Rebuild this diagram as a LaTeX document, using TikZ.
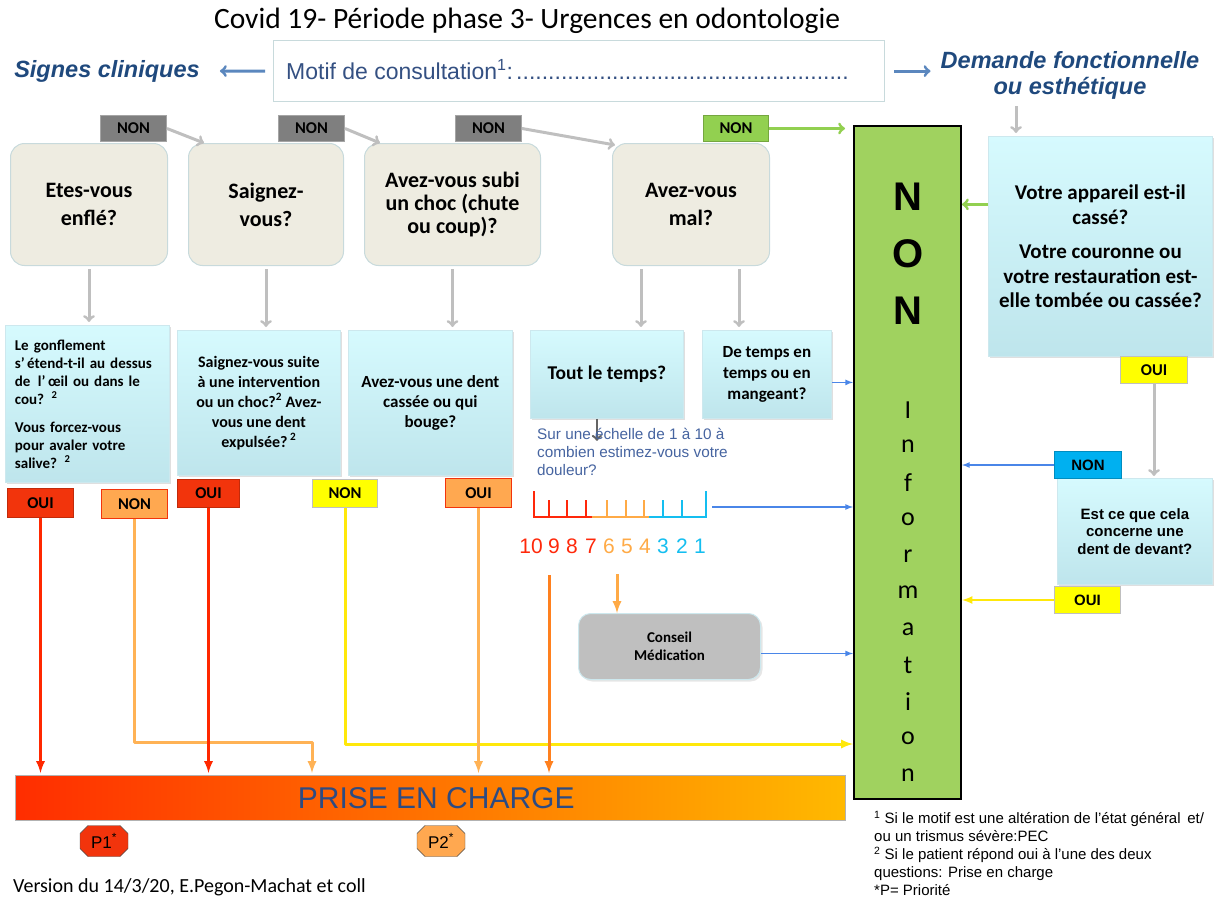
\documentclass[tikz,border=0pt]{standalone}
\usepackage{fontspec}
\setmainfont{Carlito}
\newfontfamily\arialf{Liberation Sans}
\usetikzlibrary{calc, shapes.misc, shadows}

\definecolor{qbeige}{RGB}{238,236,225}
\definecolor{qborder}{RGB}{200,218,220}
\definecolor{cyantop}{RGB}{214,250,254}
\definecolor{cyanbot}{RGB}{190,229,236}
\definecolor{cyanborder}{RGB}{205,232,238}
\definecolor{arrowgray}{RGB}{191,191,191}
\definecolor{arrowdark}{RGB}{100,100,100}
\definecolor{tagred}{RGB}{242,52,12}
\definecolor{tagorange}{RGB}{255,168,80}
\definecolor{tagyellow}{RGB}{255,255,0}
\definecolor{tagcyan}{RGB}{0,176,240}
\definecolor{taggray}{RGB}{127,127,127}
\definecolor{taggreen}{RGB}{146,208,80}
\definecolor{nongreen}{RGB}{160,210,95}
\definecolor{linered}{RGB}{255,40,0}
\definecolor{lineorange}{RGB}{255,178,85}
\definecolor{linedorange}{RGB}{255,128,30}
\definecolor{lineyellow}{RGB}{255,232,10}
\definecolor{lineblue}{RGB}{74,134,232}
\definecolor{steelblue}{RGB}{91,135,190}
\definecolor{headblue}{RGB}{31,73,125}
\definecolor{motifblue}{RGB}{52,80,130}
\definecolor{scalered}{RGB}{255,40,10}
\definecolor{scaleorange}{RGB}{255,170,70}
\definecolor{scalecyan}{RGB}{20,190,240}
\definecolor{askblue}{RGB}{70,100,160}
\definecolor{prisered}{RGB}{255,45,0}
\definecolor{priseyellow}{RGB}{255,185,0}
\definecolor{prisetext}{RGB}{45,75,130}
\definecolor{conseilgray}{RGB}{191,191,191}

\begin{document}
\begin{tikzpicture}[x=1pt,y=1pt,yscale=-1,xscale=1,
  qbox/.style={draw=qborder, fill=qbeige, rounded corners=14pt, line width=1pt, anchor=north west, inner sep=0pt, align=center},
  subbox/.style={draw=cyanborder, top color=cyantop, bottom color=cyanbot, line width=0.8pt, anchor=north west, inner sep=0pt, align=center, drop shadow={shadow xshift=2pt, shadow yshift=-2pt, opacity=0.25}},
  tag/.style={anchor=north west, inner sep=0pt, line width=1pt, font=\bfseries\fontsize{16.5}{18}\selectfont},
  grayarrow/.style={draw=arrowgray, line width=3pt, ->},
  colarrow/.style={line width=3pt, -latex, line join=round},
  thinarrow/.style={line width=1.6pt, -latex},
  numlbl/.style={inner sep=0pt, font=\arialf\fontsize{21}{21}\selectfont},
  infoletter/.style={inner sep=0pt, font=\fontsize{26}{26}\selectfont}]
\useasboundingbox (0,0) rectangle (1226,899);

% Title and motif
\node (title) at (527,21) {\fontsize{29.5}{32}\selectfont Covid 19- Période phase 3- Urgences en odontologie};
\node[draw=qborder, line width=1.2pt, anchor=north west, minimum width=611pt, minimum height=61pt] (motif) at (273,40) {};
\node[anchor=west, inner sep=0pt, text=motifblue] (motiftxt) at (286,70) {\arialf\fontsize{23}{25}\selectfont\makebox[565pt][l]{Motif de consultation\textsuperscript{1}:\leaders\hbox{.}\hfill}};
\node[inner sep=0pt, text=headblue, font=\arialf\bfseries\itshape\fontsize{23.5}{26}\selectfont] (signes) at (107,71) {Signes cliniques};
\node[inner sep=0pt, text=headblue, align=center, font=\arialf\bfseries\itshape\fontsize{23.5}{26}\selectfont] (demande) at (1070,75) {Demande fonctionnelle\\ ou esthétique};
\draw[steelblue, line width=3pt, ->, shorten <=8pt, shorten >=20pt] (motif.west) -- (signes.east);
\draw[steelblue, line width=3pt, ->, shorten <=9pt, shorten >=10pt] (motif.east) -- (motif.east -| demande.west);

% Top NON tags
\node[tag, fill=taggray, draw=taggray!70, minimum width=66pt, minimum height=26pt] (non1) at (100,115) {NON};
\node[tag, fill=taggray, draw=taggray!70, minimum width=66pt, minimum height=26pt] (non2) at (278,115) {NON};
\node[tag, fill=taggray, draw=taggray!70, minimum width=66pt, minimum height=26pt] (non3) at (455,115) {NON};
\node[tag, fill=taggreen, draw=taggreen!80!black, minimum width=65pt, minimum height=26pt] (nonG) at (703,115) {NON};

% Question boxes
\node[qbox, minimum width=157pt, minimum height=122pt, font=\bfseries\fontsize{22}{28}\selectfont] (qbox1) at (10,143) {Etes-vous\\enflé?};
\node[qbox, minimum width=155pt, minimum height=122pt, font=\bfseries\fontsize{22}{28}\selectfont] (qbox2) at (188,143) {Saignez-\\vous?};
\node[qbox, minimum width=176pt, minimum height=122pt, font=\bfseries\fontsize{22}{23}\selectfont] (qbox3) at (364,143) {Avez-vous subi\\un choc (chute\\ou coup)?};
\node[qbox, minimum width=157pt, minimum height=122pt, font=\bfseries\fontsize{22}{28}\selectfont] (qbox4) at (612,143) {Avez-vous\\mal?};

\draw[grayarrow] (non1.east) -- ($(qbox2.north west)+(16,0)$);
\draw[grayarrow] (non2.east) -- ($(qbox3.north west)+(16,0)$);
\draw[grayarrow] (non3.east) -- ($(qbox4.north west)+(3,2)$);

% Big NON box
\node[draw=black, line width=2pt, fill=nongreen, anchor=north west, minimum width=107pt, minimum height=673pt] (bignon) at (853,125) {};
\node[inner sep=0pt, font=\arialf\bfseries\fontsize{40}{40}\selectfont] (bn1) at (908,197) {N};
\node[inner sep=0pt, font=\arialf\bfseries\fontsize{40}{40}\selectfont] (bn2) at (908,254) {O};
\node[inner sep=0pt, font=\arialf\bfseries\fontsize{40}{40}\selectfont] (bn3) at (908,311) {N};
\foreach \l [count=\i] in {I,n,f,o,r,m,a,t,i,o,n}
  \node[infoletter] (info\i) at (908,{410+36.5*(\i-1)}) {\l};
\draw[taggreen, line width=3pt, ->, shorten >=8pt] (nonG.east) -- (nonG.east -| bignon.west);

% Sub questions
\node[subbox, minimum width=164pt, minimum height=157pt, align=left, text width=145pt, font=\bfseries\fontsize{15}{18}\selectfont] (sa) at (5,325) {Le gonflement\\ s’\,étend-t-il au dessus\\ de\, l’\,œil ou dans le\\ cou? \textsuperscript{2}\\[10pt] Vous forcez-vous\\ pour avaler votre\\ salive? \textsuperscript{2}};
\node[subbox, minimum width=163pt, minimum height=145pt, font=\bfseries\fontsize{16}{20}\selectfont] (sb) at (177,330) {Saignez-vous suite\\ à une intervention\\ ou un choc?\textsuperscript{2} Avez-\\ vous une dent\\ expulsée?\,\textsuperscript{2}};
\node[subbox, minimum width=164pt, minimum height=145pt, font=\bfseries\fontsize{17}{20}\selectfont] (sc) at (348,330) {Avez-vous une dent\\ cassée ou qui\\ bouge?};
\node[subbox, minimum width=153pt, minimum height=88pt, font=\bfseries\fontsize{19.5}{21}\selectfont] (sd) at (530,330) {Tout le temps?};
\node[subbox, minimum width=129pt, minimum height=88pt, font=\bfseries\fontsize{17}{21}\selectfont] (se) at (702,330) {De temps en\\ temps ou en\\ mangeant?};
\node[subbox, minimum width=224pt, minimum height=220pt, font=\bfseries\fontsize{21}{24.5}\selectfont] (sf) at (988,136) {Votre appareil est-il\\ cassé?\\[10pt] Votre couronne ou\\ votre restauration est-\\ elle tombée ou cassée?};
\node[subbox, minimum width=155pt, minimum height=106pt, font=\arialf\bfseries\fontsize{15}{17.5}\selectfont] (sg) at (1057,478) {Est ce que cela\\ concerne une\\ dent de devant?};

\draw[grayarrow, shorten <=3pt, shorten >=3pt] (qbox1.south) -- (qbox1.south |- sa.north);
\draw[grayarrow, shorten <=3pt, shorten >=3pt] (qbox2.south) -- (qbox2.south |- sb.north);
\draw[grayarrow, shorten <=3pt, shorten >=3pt] (qbox3.south) -- (qbox3.south |- sc.north);
\coordinate (m1) at ($(qbox4.south)+(-50,0)$);
\coordinate (m2) at ($(qbox4.south)+(48,0)$);
\draw[grayarrow, shorten <=3pt, shorten >=3pt] (m1) -- (m1 |- sd.north);
\draw[grayarrow, shorten <=3pt, shorten >=3pt] (m2) -- (m2 |- se.north);
\coordinate (dm) at (1016,106);
\draw[grayarrow, shorten >=3pt] (dm) -- (dm |- sf.north);

% OUI / NON tags
\node[tag, fill=tagred, draw=tagred!80!black, minimum width=66pt, minimum height=29pt] (oui1) at (7,488) {OUI};
\node[tag, fill=tagorange, draw=tagred, minimum width=66pt, minimum height=29pt] (non4) at (101,489) {NON};
\node[tag, fill=tagred, draw=tagred!80!black, minimum width=62pt, minimum height=28pt] (oui2) at (177,479) {OUI};
\node[tag, fill=tagyellow, draw=black!25, minimum width=65pt, minimum height=28pt] (non5) at (312,479) {NON};
\node[tag, fill=tagorange, draw=tagred, minimum width=66pt, minimum height=29pt] (oui3) at (445,478) {OUI};
\node[tag, fill=tagyellow, draw=black!25, minimum width=67pt, minimum height=27pt] (oui4) at (1120,356) {OUI};
\node[tag, fill=tagcyan, draw=tagcyan!80!black, font=\arialf\bfseries\fontsize{15}{16}\selectfont, minimum width=67pt, minimum height=27pt] (non6) at (1054,451) {NON};
\node[tag, fill=tagyellow, draw=black!25, font=\arialf\bfseries\fontsize{15}{16}\selectfont, minimum width=66pt, minimum height=27pt] (oui5) at (1054,586) {OUI};
\draw[grayarrow, shorten >=2pt] (oui4.south) -- (oui4.south |- sg.north);

% Pain scale
\coordinate (t1) at ($(sd.south)+(-10,0)$);
\draw[arrowdark, line width=2.5pt, ->] (t1) -- ++(0,22);
\node[anchor=north west, inner sep=0pt, align=left, text=askblue, font=\arialf\fontsize{15.3}{18}\selectfont] (ask) at (537,428) {Sur une échelle de 1 à 10 à\\ combien estimez-vous votre\\ douleur?};
\draw[scalered, line width=2.5pt] (534,491) -- (534,517) -- (592,517);
\foreach \xx in {549,567,586} \draw[scalered, line width=2.5pt] (\xx,500) -- (\xx,517);
\draw[scaleorange, line width=2.5pt] (592,517) -- (649,517);
\foreach \xx in {607,626,644} \draw[scaleorange, line width=2.5pt] (\xx,500) -- (\xx,517);
\draw[scalecyan, line width=2.5pt] (649,517) -- (706,517) -- (706,491);
\foreach \xx in {663,682} \draw[scalecyan, line width=2.5pt] (\xx,500) -- (\xx,517);
\foreach \v/\xx/\c in {10/531/scalered, 9/554/scalered, 8/572/scalered, 7/591/scalered, 6/609/scaleorange, 5/627/scaleorange, 4/645/scaleorange, 3/663/scalecyan, 2/682/scalecyan, 1/700/scalecyan}
  \node[numlbl, text=\c] (n\v) at (\xx,546) {\v};

% Conseil
\node[draw=cyanborder, fill=conseilgray, rounded corners=12pt, line width=1pt, anchor=north west, minimum width=182pt, minimum height=66pt, align=center, font=\bfseries\fontsize{15}{18}\selectfont, drop shadow={shadow xshift=2pt, shadow yshift=-2pt, opacity=0.2}] (conseil) at (578,613) {Conseil\\ Médication};
\coordinate (d6) at (617,574);
\draw[scaleorange, colarrow] (d6) -- (d6 |- conseil.north);

% Prise en charge
\node[draw=black!30, left color=prisered, right color=priseyellow, anchor=north west, minimum width=830pt, minimum height=45pt, text=prisetext, font=\arialf\fontsize{30}{32}\selectfont] (prise) at (15,775) {\hspace{12pt}PRISE EN CHARGE};
\node[chamfered rectangle, chamfered rectangle xsep=4pt, chamfered rectangle ysep=4pt, draw=black!70, fill=tagred, minimum width=48pt, minimum height=31pt, inner sep=2pt, font=\arialf\fontsize{17}{18}\selectfont] (p1) at (104,841) {P1\textsuperscript{*}};
\node[chamfered rectangle, chamfered rectangle xsep=4pt, chamfered rectangle ysep=4pt, draw=black!70, fill=tagorange, minimum width=48pt, minimum height=31pt, inner sep=2pt, font=\arialf\fontsize{17}{18}\selectfont] (p2) at (441,841) {P2\textsuperscript{*}};

% Colored arrows
\coordinate (j1) at (312,742);
\coordinate (j2) at (0,744);
\coordinate (d9) at (549,575);
\draw[linered, colarrow, shorten >=2pt] (oui1.south) -- (oui1.south |- prise.north);
\draw[lineorange, colarrow, shorten >=2pt] (non4.south) |- (j1) -- (j1 |- prise.north);
\draw[linered, colarrow, shorten >=2pt] (oui2.south) -- (oui2.south |- prise.north);
\draw[lineyellow, colarrow] (non5.south) |- (bignon.west |- j2);
\draw[lineorange, colarrow, shorten >=2pt] (oui3.south) -- (oui3.south |- prise.north);
\draw[linedorange, colarrow, shorten >=2pt] (d9) -- (d9 |- prise.north);

% Thin arrows into the NON box
\coordinate (b1) at ($(se.east)+(0,8)$);
\coordinate (b2) at (712,507);
\coordinate (b3) at ($(conseil.east)+(0,7)$);
\coordinate (g1) at ($(sf.west)+(0,-42)$);
\draw[lineblue, thinarrow] (b1) -- (b1 -| bignon.west);
\draw[lineblue, thinarrow] (b2) -- (b2 -| bignon.west);
\draw[lineblue, thinarrow] (b3) -- (b3 -| bignon.west);
\draw[lineblue, thinarrow] (non6.west) -- (non6.west -| bignon.east);
\draw[lineyellow, line width=2.5pt, -latex] (oui5.west) -- (oui5.west -| bignon.east);
\draw[taggreen, line width=3pt, ->] (g1) -- (g1 -| bignon.east);

% Notes
\node[anchor=west, inner sep=0pt, font=\fontsize{20}{22}\selectfont] (version) at (13,887) {Version du 14/3/20, E.Pegon-Machat et coll};
\node[anchor=north west, inner sep=0pt, align=left, font=\arialf\fontsize{15}{18}\selectfont] (notes) at (874,811) {\textsuperscript{1} Si le motif est une altération de l’état général\, et/\\ ou un trismus sévère:PEC\\ \textsuperscript{2} Si le patient répond oui à l’une des deux\\ questions: Prise en charge\\ *P= Priorité};
\end{tikzpicture}
\end{document}
